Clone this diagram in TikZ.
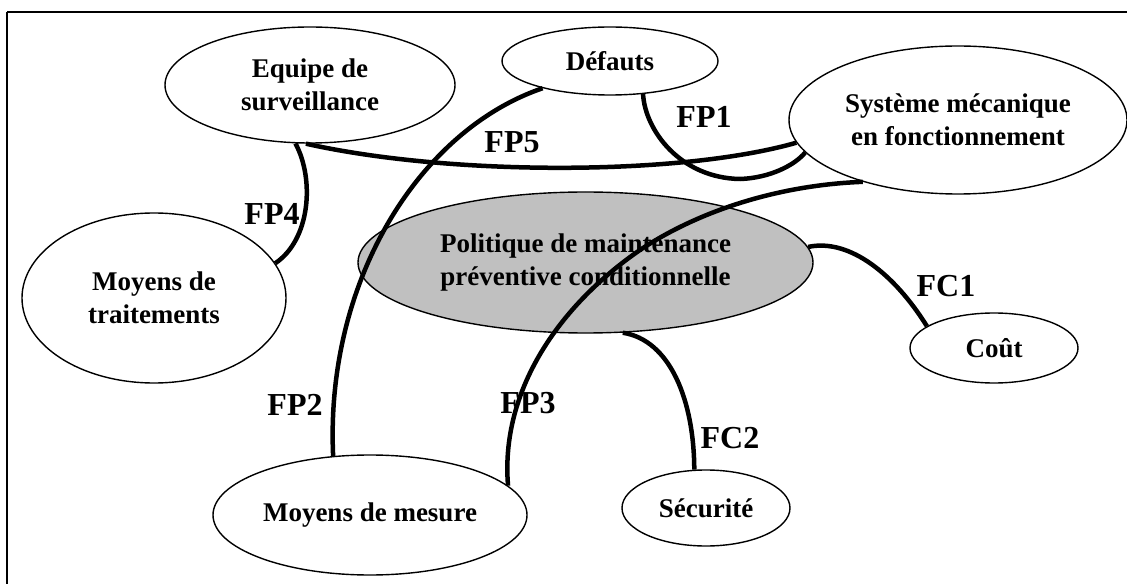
\documentclass[tikz,border=0pt]{standalone}
\usepackage{fontspec}
\setmainfont{Liberation Serif}
\usetikzlibrary{shapes.geometric}
\definecolor{shade}{HTML}{C0C0C0}
\begin{document}
\begin{tikzpicture}[x=1pt,y=-1pt,
  bubble/.style={ellipse, draw, line width=1.4pt, inner sep=0pt, align=center,
                 font=\fontsize{27}{33}\selectfont\bfseries},
  conn/.style={line width=4.5pt},
  tag/.style={font=\fontsize{32}{36}\selectfont\bfseries, inner sep=0pt}]
\useasboundingbox (0,0) rectangle (1127,585);

% frame edges
\draw[line width=1.6pt] (7,12) -- (1127,12);
\draw[line width=2pt] (7,12) -- (7,584);

% elements of the environment
\node[bubble, minimum width=290pt, minimum height=116pt] (equipe) at (310,85) {Equipe de\\surveillance};
\node[bubble, minimum width=216pt, minimum height=68pt] (defauts) at (610,61) {Défauts};
\node[bubble, minimum width=338pt, minimum height=148pt] (systeme) at (958,120) {Système mécanique\\en fonctionnement};
\node[bubble, fill=shade, minimum width=455pt, minimum height=141pt] (politique) at (585.5,262.5) {Politique de maintenance\\préventive conditionnelle};
\node[bubble, minimum width=264pt, minimum height=170pt] (traitements) at (154,298) {Moyens de\\traitements};
\node[bubble, minimum width=314pt, minimum height=120pt] (mesure) at (370,515) {Moyens de mesure};
\node[bubble, minimum width=168pt, minimum height=70pt] (cout) at (994,348) {Coût};
\node[bubble, minimum width=168pt, minimum height=76pt] (securite) at (706,508) {Sécurité};

% functions
\draw[conn] (defauts.-45) .. controls (645,130) and (680,178) .. (740,179)
            .. controls (770,178) and (795,165) .. (systeme.-168);
\draw[conn] (equipe.-94) .. controls (450,176) and (680,176) .. (systeme.188);
\draw[conn] (defauts.-158) .. controls (420,130) and (325,280) .. (mesure.122.5);
\draw[conn] (systeme.-147) .. controls (780,185) and (700,210) .. (640,250)
            .. controls (560,305) and (500,390) .. (mesure.12.8);
\draw[conn] (equipe.-104) .. controls (315,180) and (310,240) .. (traitements.16.8);
\draw[conn] (politique.4.7) .. controls (850,238) and (895,275) .. (cout.162.8);
\draw[conn] (politique.-62.6) .. controls (670,340) and (694,400) .. (securite.107);

% function labels
\node[tag] (lfp1) at (704,117) {FP1};
\node[tag] (lfp5) at (512,142) {FP5};
\node[tag] (lfp4) at (272,214) {FP4};
\node[tag] (lfp2) at (295,405) {FP2};
\node[tag] (lfp3) at (528,403) {FP3};
\node[tag] (lfc1) at (946,286) {FC1};
\node[tag] (lfc2) at (730,438) {FC2};
\end{tikzpicture}
\end{document}
